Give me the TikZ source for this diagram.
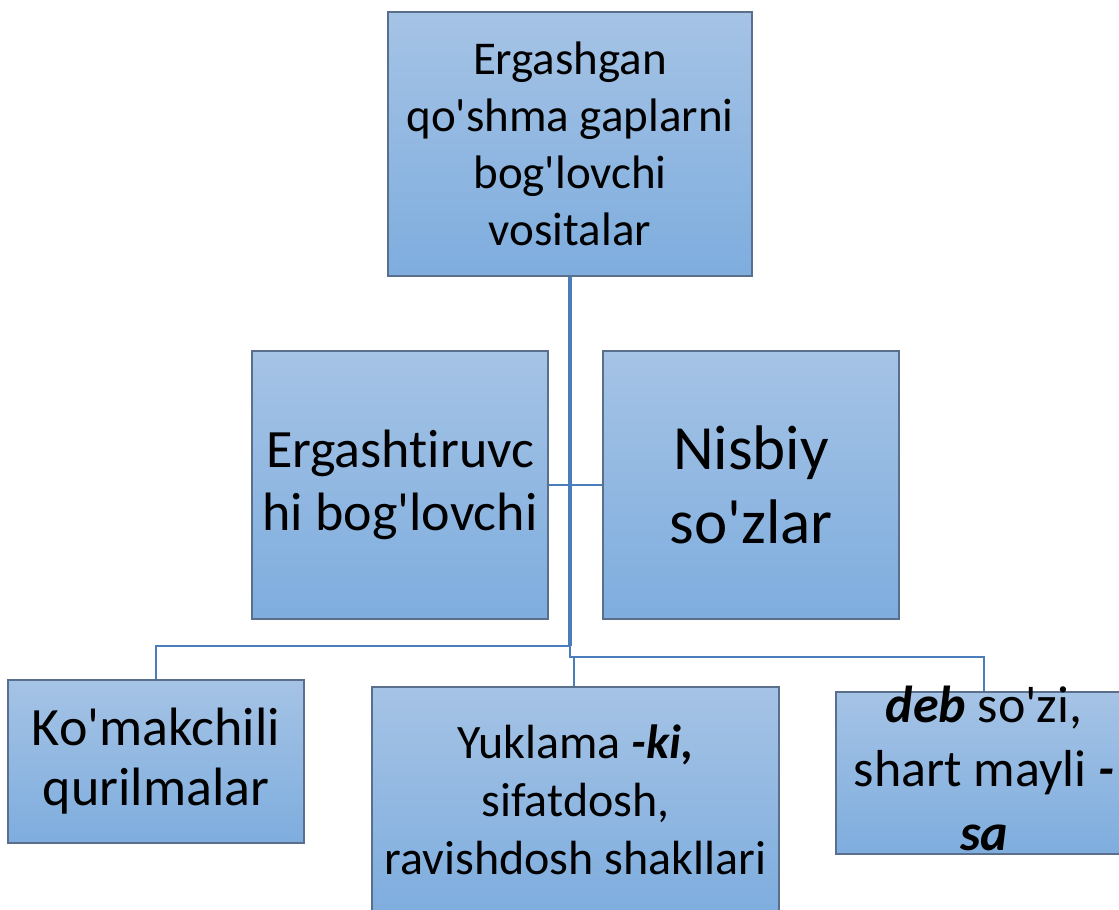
\documentclass[tikz,border=0pt]{standalone}
\usepackage{fontspec}
\setmainfont{Carlito}[Ligatures={TeXOff,NoCommon}]
\usepackage{tikz}
\usetikzlibrary{positioning}

\definecolor{boxtop}{HTML}{A5C3E5}
\definecolor{boxbot}{HTML}{7EADDE}
\definecolor{boxrim}{HTML}{5A6F8C}
\definecolor{linkblue}{HTML}{4A7EBB}

\newcommand{\snug}[1]{\smash{\raisebox{-7pt}{\begin{tabular}{@{}c@{}}#1\end{tabular}}}}

\begin{document}
\begin{tikzpicture}[%
    x=1pt, y=-1pt,
    on grid,
    box/.style={draw=boxrim, line width=1.2pt, top color=boxtop, bottom color=boxbot,
      inner sep=0pt, align=center, minimum width=296pt},
    link/.style={draw=linkblue, line width=2.6pt}
    ]

    \useasboundingbox (0,0) rectangle (1119,910);

    \node[box, minimum width=364pt, minimum height=264pt,
      font=\fontsize{47}{57}\selectfont] (top) at (570,144)
      {Ergashgan\\qo'shma gaplarni\\bog'lovchi\\vositalar};
    \node[box, minimum height=268pt, font=\fontsize{54}{63}\selectfont]
      (bogl) [below left=341pt and 170pt of top] {Ergashtiruvc\\hi bog'lovchi};
    \node[box, minimum height=268pt, font=\fontsize{63}{74}\selectfont]
      (nisbiy) [right=351pt of bogl] {Nisbiy\\so'zlar};

    \node[box, minimum height=163pt, font=\fontsize{54}{60}\selectfont]
      (komak) [below left=617.5pt and 414pt of top] {Ko'makchili\\qurilmalar};
    \node[box, minimum width=407pt, minimum height=225pt, font=\fontsize{48}{58}\selectfont]
      (yukl) [below right=655.5pt and 5.5pt of top]
      {Yuklama \textbf{\textit{-ki,}}\\sifatdosh,\\ravishdosh shakllari};
    \node[box, minimum height=162pt, font=\fontsize{52}{64}\selectfont]
      (deb) [below right=629pt and 414pt of top]
      {\snug{\textbf{\textit{deb}} so'zi,\\shart mayli \textbf{\textit{-}}\\\textbf{\textit{sa}}}};

    \coordinate (fork) at (570,646);
    \coordinate (jog) at (574,657);

    \path[link, line width=3.2pt] (top.south) -- (fork);
    \path[link] (bogl.east) -- (nisbiy.west);
    \path[link] (fork) -| (komak.north);
    \path[link] (fork) |- (jog) -| (deb.north);
    \path[link] (jog) -- (jog |- yukl.north);

\end{tikzpicture}
\end{document}
